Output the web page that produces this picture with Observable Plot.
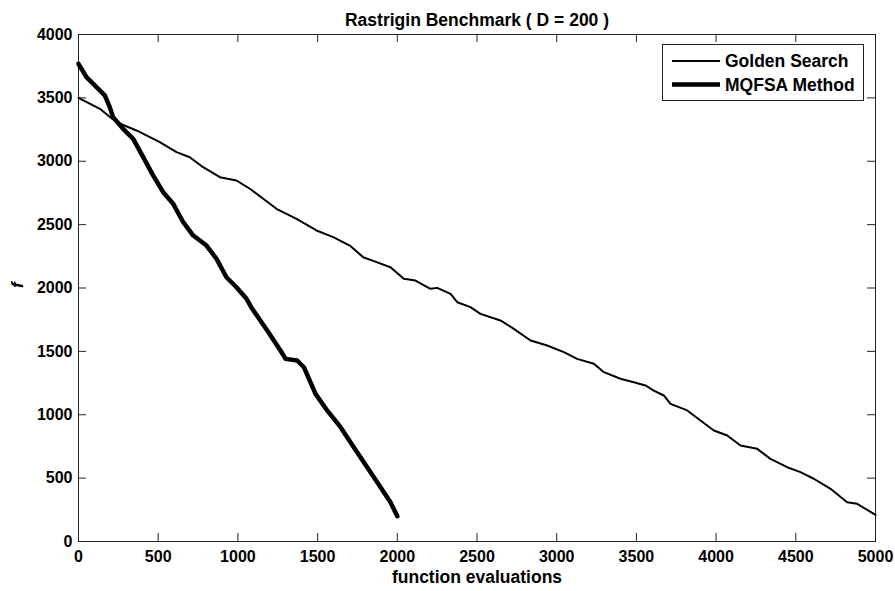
<!DOCTYPE html>
<html><head><meta charset="utf-8">
<script src="https://cdn.jsdelivr.net/npm/d3@7"></script>
<script src="https://cdn.jsdelivr.net/npm/@observablehq/plot@0.6"></script>
<style>
body{margin:0;background:#fff;}
#chart svg{display:block;}
</style></head><body><div id="chart"></div>
<script>
const title = "Rastrigin Benchmark ( D = 200 )";
const xLabel = "function evaluations";
const yLabel = "f";
const xTicks = [0, 500, 1000, 1500, 2000, 2500, 3000, 3500, 4000, 4500, 5000];
const yTicks = [0, 500, 1000, 1500, 2000, 2500, 3000, 3500, 4000];
const seriesNames = ["Golden Search", "MQFSA Method"];

const goldenX = [0,134,238,364,510,615,698,782,887,991,1075,1159,1242,1368,1493,1598,1702,1786,1870,1957,2041,2114,2208,2250,2334,2376,2459,2522,2647,2731,2836,2940,3045,3128,3233,3296,3400,3484,3557,3609,3672,3714,3819,3902,3986,4070,4153,4258,4341,4446,4529,4613,4718,4822,4885,5000];
const goldenY = [3500,3414,3308,3243,3151,3072,3032,2953,2874,2848,2783,2704,2625,2546,2454,2401,2335,2243,2204,2164,2073,2059,1994,2001,1954,1888,1849,1796,1744,1678,1586,1546,1494,1441,1402,1336,1284,1257,1231,1191,1152,1086,1034,955,876,836,757,731,652,586,547,495,416,310,297,210];

const mqfsaX = [0,50,102,165,196,217,280,343,406,468,531,594,657,720,803,866,928,991,1054,1090,1184,1267,1299,1372,1414,1487,1560,1644,1727,1811,1895,1957,2000];
const mqfsaY = [3769,3663,3598,3519,3427,3348,3256,3177,3032,2888,2756,2664,2519,2414,2335,2230,2085,2006,1915,1836,1665,1507,1441,1428,1375,1165,1034,902,744,586,428,310,200];

const golden = goldenX.map((x, i) => ({series: seriesNames[0], x, y: goldenY[i]}));
const mqfsa = mqfsaX.map((x, i) => ({series: seriesNames[1], x, y: mqfsaY[i]}));

const font = "'Liberation Sans', Arial, Helvetica, sans-serif";
const axisColor = "#222";
const W = 895, H = 591, mL = 78, mR = 20, mT = 34, mB = 50;
const innerW = W - mL - mR, innerH = H - mT - mB;
const tickLen = 8;
const fmt = d => String(d);

const plot = Plot.plot({
  width: W, height: H,
  marginLeft: mL, marginRight: mR, marginTop: mT, marginBottom: mB,
  x: {domain: [0, 5000]},
  y: {domain: [0, 4000]},
  style: {fontFamily: font, fontSize: "16px", fontWeight: "bold", background: "#fff", color: "#000", overflow: "visible"},
  marks: [
    Plot.axisX(xTicks, {anchor: "bottom", tickSize: 0, tickPadding: 9, tickFormat: fmt, label: null, fontSize: 16, fontWeight: "bold", fill: "#000"}),
    Plot.axisY(yTicks, {anchor: "left", tickSize: 0, tickPadding: 6, tickFormat: fmt, label: null, fontSize: 16, fontWeight: "bold", fill: "#000"}),
    // inward tick marks on all four sides (MATLAB style)
    Plot.tickX(xTicks, {x: d => d, insetTop: innerH - tickLen, stroke: axisColor, strokeWidth: 1}),
    Plot.tickX(xTicks, {x: d => d, insetBottom: innerH - tickLen, stroke: axisColor, strokeWidth: 1}),
    Plot.tickY(yTicks, {y: d => d, insetRight: innerW - tickLen, stroke: axisColor, strokeWidth: 1}),
    Plot.tickY(yTicks, {y: d => d, insetLeft: innerW - tickLen, stroke: axisColor, strokeWidth: 1}),
    Plot.frame({stroke: axisColor}),
    Plot.line(golden, {x: "x", y: "y", stroke: "#000", strokeWidth: 2, strokeLinejoin: "round"}),
    Plot.line(mqfsa, {x: "x", y: "y", stroke: "#000", strokeWidth: 4.5, strokeLinejoin: "round"}),
    Plot.text([title], {text: d => d, frameAnchor: "top", dy: -9, lineAnchor: "bottom", fontSize: 17.5, fontWeight: "bold"}),
    Plot.text([xLabel], {text: d => d, frameAnchor: "bottom", dy: 41, lineAnchor: "bottom", fontSize: 17.5, fontWeight: "bold"}),
    Plot.text([yLabel], {text: d => d, frameAnchor: "left", dx: -61, rotate: -90, fontSize: 17, fontWeight: "bold", fontStyle: "italic"})
  ]
});

document.getElementById("chart").appendChild(plot);

// Legend (MATLAB-style boxed legend in the upper right)
const svg = d3.select(plot);
const lg = svg.append("g").attr("class", "legend").attr("text-anchor", "start");
const lx = 662, ly = 44, lw = 201, lh = 56;
lg.append("rect").attr("x", lx + 0.5).attr("y", ly + 0.5).attr("width", lw).attr("height", lh)
  .attr("fill", "#fff").attr("stroke", axisColor).attr("stroke-width", 1);
const legendItems = [
  {name: seriesNames[0], width: 2},
  {name: seriesNames[1], width: 4.5}
];
legendItems.forEach((it, i) => {
  const cy = ly + 17 + i * 23.5;
  lg.append("line").attr("x1", lx + 10).attr("x2", lx + 58).attr("y1", cy).attr("y2", cy)
    .attr("stroke", "#000").attr("stroke-width", it.width);
  lg.append("text").attr("x", lx + 63).attr("y", cy).attr("dy", "0.35em")
    .attr("text-anchor", "start")
    .attr("font-family", font).attr("font-size", 17.5).attr("font-weight", "bold").attr("fill", "#000")
    .text(it.name);
});
</script></body></html>
